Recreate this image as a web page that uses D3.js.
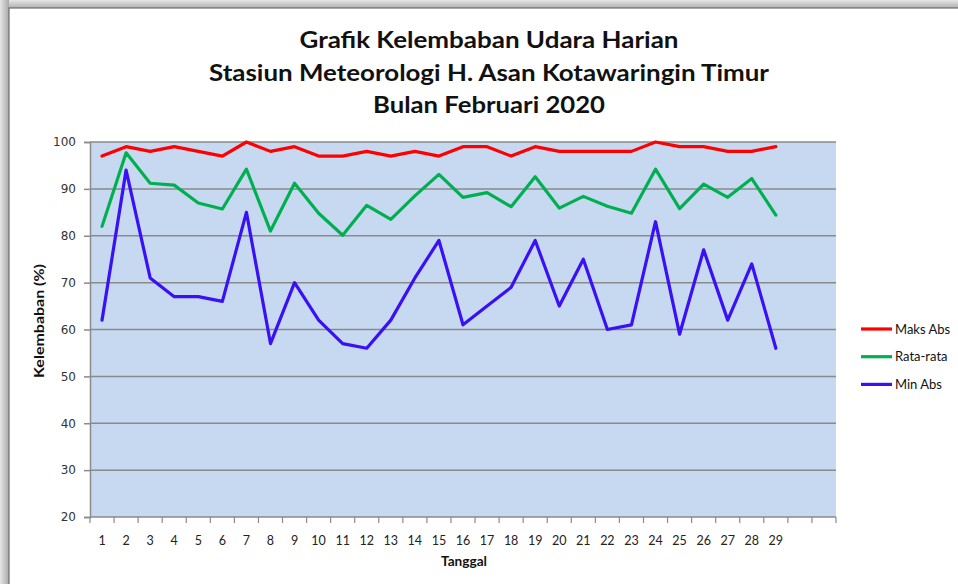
<!DOCTYPE html>
<html>
<head>
<meta charset="utf-8">
<script src="https://cdn.jsdelivr.net/npm/d3@7"></script>
<style>
  body { margin: 0; background: #fff; }
  svg { display: block; }
</style>
</head>
<body>
<svg id="chart" width="958" height="584"></svg>
<script>
// data
const days = d3.range(1, 32); // 31 slots, only 29 labelled
const dayLabels = d3.range(1, 30);
const maksAbs = [97, 99, 98, 99, 98, 97, 100, 98, 99, 97, 97, 98, 97, 98, 97, 99, 99, 97, 99, 98, 98, 98, 98, 100, 99, 99, 98, 98, 99];
const rataRata = [82, 97.7, 91.2, 90.8, 87, 85.7, 94.2, 81, 91.2, 84.8, 80.1, 86.5, 83.5, 88.5, 93.1, 88.2, 89.2, 86.2, 92.6, 85.9, 88.4, 86.3, 84.8, 94.2, 85.8, 91, 88.2, 92.2, 84.4];
const minAbs = [62, 94, 71, 67, 67, 66, 85, 57, 70, 62, 57, 56, 62, 71, 79, 61, 65, 69, 79, 65, 75, 60, 61, 83, 59, 77, 62, 74, 56];
const yTicks = [20, 30, 40, 50, 60, 70, 80, 90, 100];

const series = [
  { name: 'Maks Abs', values: maksAbs, color: '#ff0000' },
  { name: 'Rata-rata', values: rataRata, color: '#00b050' },
  { name: 'Min Abs', values: minAbs, color: '#3a10f5' }
];

const width = 958, height = 584;
const plot = { left: 90, right: 836, top: 142, bottom: 517 };

let svg = d3.select('#chart');

// outer frame with a soft shadow
let defs = svg.append('defs');
let gTop = defs.append('linearGradient').attr('id', 'shTop').attr('x1', 0).attr('y1', 0).attr('x2', 0).attr('y2', 1);
gTop.append('stop').attr('offset', 0).attr('stop-color', '#e6e6e6');
gTop.append('stop').attr('offset', 1).attr('stop-color', '#a8a8a8');
let gLeft = defs.append('linearGradient').attr('id', 'shLeft').attr('x1', 0).attr('y1', 0).attr('x2', 1).attr('y2', 0);
gLeft.append('stop').attr('offset', 0).attr('stop-color', '#e6e6e6');
gLeft.append('stop').attr('offset', 1).attr('stop-color', '#a8a8a8');

svg.append('rect').attr('x', 0).attr('y', 0).attr('width', width).attr('height', 9).attr('fill', 'url(#shTop)');
svg.append('rect').attr('x', 0).attr('y', 0).attr('width', 9).attr('height', height).attr('fill', 'url(#shLeft)');
svg.append('rect').attr('x', 9).attr('y', 8).attr('width', width).attr('height', height)
  .attr('fill', '#fff').attr('stroke', '#6e6e6e').attr('stroke-width', 1.2);

// scales
let x = d3.scaleBand().domain(days).range([plot.left, plot.right]);
let y = d3.scaleLinear().domain([20, 100]).range([plot.bottom, plot.top]);
let cx = d => x(d) + x.bandwidth() / 2;

// plot background
svg.append('rect')
  .attr('x', plot.left).attr('y', plot.top)
  .attr('width', plot.right - plot.left).attr('height', plot.bottom - plot.top)
  .attr('fill', '#c6d9f1');

// gridlines
svg.append('g').selectAll('line')
  .data(yTicks.filter(t => t > 20))
  .enter().append('line')
  .attr('x1', plot.left).attr('x2', plot.right)
  .attr('y1', d => y(d)).attr('y2', d => y(d))
  .attr('stroke', '#8a8a8a').attr('stroke-width', 1.5);

// y axis
let yAxis = svg.append('g')
  .attr('transform', `translate(${plot.left},0)`)
  .call(d3.axisLeft(y).tickValues(yTicks).tickSize(6).tickPadding(8));
yAxis.select('.domain').attr('stroke', '#8a8a8a').attr('stroke-width', 1.5);
yAxis.selectAll('.tick line').attr('stroke', '#8a8a8a').attr('stroke-width', 1.5);
yAxis.selectAll('text')
  .style('font-family', 'DejaVu Sans, Verdana, sans-serif')
  .style('font-size', '12px').attr('fill', '#333');

// x axis: ticks on band edges, labels in band centres
let xg = svg.append('g').attr('transform', `translate(0,${plot.bottom})`);
xg.append('line').attr('x1', plot.left).attr('x2', plot.right)
  .attr('stroke', '#8a8a8a').attr('stroke-width', 1.5);
xg.selectAll('line.tk')
  .data(days.concat([days.length + 1]))
  .enter().append('line').attr('class', 'tk')
  .attr('x1', d => d <= days.length ? x(d) : plot.right)
  .attr('x2', d => d <= days.length ? x(d) : plot.right)
  .attr('y1', 0).attr('y2', 6)
  .attr('stroke', '#8a8a8a').attr('stroke-width', 1.2);
xg.selectAll('text')
  .data(dayLabels)
  .enter().append('text')
  .attr('x', d => cx(d)).attr('y', 28)
  .attr('text-anchor', 'middle')
  .style('font-family', 'Lato, sans-serif').style('font-size', '12.5px')
  .attr('fill', '#222')
  .text(d => d);

// lines
let line = d3.line().x((d, i) => cx(days[i])).y(d => y(d));
svg.append('g').selectAll('path')
  .data(series)
  .enter().append('path')
  .attr('d', d => line(d.values))
  .attr('fill', 'none')
  .attr('stroke', d => d.color)
  .attr('stroke-width', 3.2)
  .attr('stroke-linejoin', 'round')
  .attr('stroke-linecap', 'round');

// titles
const titleLines = ['Grafik Kelembaban Udara Harian', 'Stasiun Meteorologi H. Asan Kotawaringin Timur', 'Bulan Februari 2020'];
const titleWidths = [379, 560, 232];
svg.append('g').selectAll('text')
  .data(titleLines)
  .enter().append('text')
  .attr('x', 489).attr('y', (d, i) => 48 + i * 32.5)
  .attr('text-anchor', 'middle')
  .attr('textLength', (d, i) => titleWidths[i])
  .attr('lengthAdjust', 'spacingAndGlyphs')
  .style('font-family', 'Lato, sans-serif').style('font-weight', 'bold').style('font-size', '23px')
  .attr('fill', '#111')
  .text(d => d);

// axis titles
svg.append('text')
  .attr('x', 464).attr('y', 566)
  .attr('text-anchor', 'middle')
  .attr('textLength', 46)
  .attr('lengthAdjust', 'spacingAndGlyphs')
  .style('font-family', 'Lato, sans-serif').style('font-weight', 'bold').style('font-size', '12.5px')
  .attr('fill', '#111')
  .text('Tanggal');

svg.append('text')
  .attr('transform', 'translate(44,321) rotate(-90)')
  .attr('text-anchor', 'middle')
  .attr('textLength', 114)
  .attr('lengthAdjust', 'spacingAndGlyphs')
  .style('font-family', 'Lato, sans-serif').style('font-weight', 'bold').style('font-size', '12.5px')
  .attr('fill', '#111')
  .text('Kelembaban (%)');

// legend
let legend = svg.append('g').selectAll('g')
  .data(series)
  .enter().append('g')
  .attr('transform', (d, i) => `translate(861,${329 + i * 27.7})`);
legend.append('line').attr('x1', 0).attr('x2', 31)
  .attr('stroke', d => d.color).attr('stroke-width', 3.2);
legend.append('text')
  .attr('x', 34).attr('y', 4.5)
  .style('font-family', 'Lato, sans-serif').style('font-size', '13px')
  .attr('fill', '#111')
  .text(d => d.name);
</script>
</body>
</html>
